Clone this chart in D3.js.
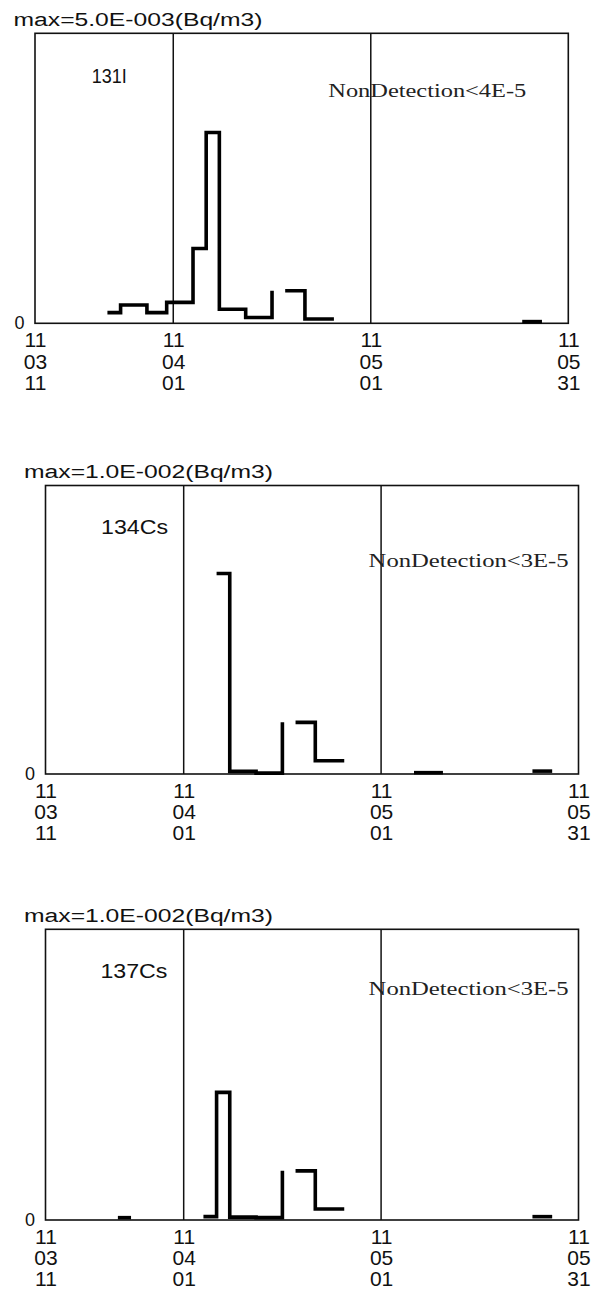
<!DOCTYPE html>
<html>
<head>
<meta charset="utf-8">
<script src="https://cdn.jsdelivr.net/npm/d3@7"></script>
<style>
  html, body { margin: 0; padding: 0; background: #fff; }
  svg { display: block; }
</style>
</head>
<body>
<svg id="chart" width="597" height="1289"></svg>
<script>
// sampling periods are given as day offsets from 2011-03-11
const startDate = new Date(2011, 2, 11);
const tickDates = ["2011-03-11", "2011-04-01", "2011-05-01", "2011-05-31"];
const monthLines = ["2011-04-01", "2011-05-01"];

const i131Start = [11, 13, 17, 20, 24, 26, 28, 32, 38, 41, 74];
const i131End = [13, 17, 20, 24, 26, 28, 32, 36, 41, 45.4, 77];
const i131Value = [1.84e-4, 3.16e-4, 1.84e-4, 3.6e-4, 1.29e-3, 3.29e-3, 2.41e-4, 1.0e-4, 5.6e-4, 7.4e-5, 2.9e-5];

const cs134Start = [26, 28, 32, 38, 41, 56, 74];
const cs134End = [28, 32, 36, 41, 45.4, 60.4, 77];
const cs134Value = [6.95e-3, 9e-5, 3e-5, 1.79e-3, 4.6e-4, 4.6e-5, 1.0e-4];

const cs137Start = [11, 24, 26, 28, 32, 38, 41, 74];
const cs137End = [13, 26, 28, 32, 36, 41, 45.4, 77];
const cs137Value = [8e-5, 1.15e-4, 4.39e-3, 1.0e-4, 8e-5, 1.69e-3, 3.8e-4, 1.15e-4];

const panels = [
  { title: "max=5.0E-003(Bq/m3)", max: 5.0e-3, label: "131I", nd: "NonDetection<4E-5",
    start: i131Start, end: i131End, value: i131Value,
    left: 35, right: 568.3, top: 33.3, bottom: 323.3,
    labelPos: [91.7, 83.3, 35], ndPos: [328.3, 97, 198] },
  { title: "max=1.0E-002(Bq/m3)", max: 1.0e-2, label: "134Cs", nd: "NonDetection<3E-5",
    start: cs134Start, end: cs134End, value: cs134Value,
    left: 45.5, right: 578.5, top: 485.5, bottom: 774,
    labelPos: [101, 534, 67], ndPos: [368.6, 567, 200] },
  { title: "max=1.0E-002(Bq/m3)", max: 1.0e-2, label: "137Cs", nd: "NonDetection<3E-5",
    start: cs137Start, end: cs137End, value: cs137Value,
    left: 45.5, right: 578.5, top: 929.3, bottom: 1220,
    labelPos: [100.4, 978.3, 67], ndPos: [368.6, 995, 200] }
];

const svg = d3.select("#chart");
const parse = d3.timeParse("%Y-%m-%d");
const dayToDate = (d) => new Date(startDate.getTime() + d * 864e5);
const sans = "'Liberation Sans', Arial, sans-serif";
const serif = "'Liberation Serif', 'Times New Roman', serif";

panels.forEach((p) => {
  const g = svg.append("g");

  const x = d3.scaleTime()
    .domain([parse(tickDates[0]), parse(tickDates[tickDates.length - 1])])
    .range([p.left, p.right]);
  const y = d3.scaleLinear().domain([0, p.max]).range([p.bottom, p.top]);

  // title above the frame
  g.append("text")
    .attr("x", p.left - 21.5)
    .attr("y", p.top - 7.3)
    .attr("font-family", sans)
    .attr("font-size", 18)
    .attr("textLength", 249)
    .attr("lengthAdjust", "spacingAndGlyphs")
    .attr("fill", "#111")
    .text(p.title);

  // month divider lines
  g.selectAll("line.month")
    .data(monthLines.map(parse))
    .enter()
    .append("line")
    .attr("x1", (d) => x(d))
    .attr("x2", (d) => x(d))
    .attr("y1", p.top)
    .attr("y2", p.bottom)
    .attr("stroke", "#111")
    .attr("stroke-width", 1.5);

  // frame
  g.append("rect")
    .attr("x", p.left)
    .attr("y", p.top)
    .attr("width", p.right - p.left)
    .attr("height", p.bottom - p.top)
    .attr("fill", "none")
    .attr("stroke", "#111")
    .attr("stroke-width", 1.6);

  // step runs: consecutive periods are joined; a short gap gets only the rise
  const runs = [];
  let run = null;
  p.start.forEach((s, i) => {
    if (!run) {
      run = [[s, p.value[i]]];
      runs.push(run);
    }
    run.push([p.end[i], p.value[i]]);
    const next = p.start[i + 1];
    if (next === undefined) return;
    if (next === p.end[i]) {
      run.push([p.end[i], p.value[i + 1]]);
    } else {
      if (next - p.end[i] <= 2) run.push([p.end[i], p.value[i + 1]]);
      run = null;
    }
  });

  const line = d3.line()
    .x((d) => x(dayToDate(d[0])))
    .y((d) => y(d[1]));

  g.selectAll("path.step")
    .data(runs)
    .enter()
    .append("path")
    .attr("d", line)
    .attr("fill", "none")
    .attr("stroke", "#000")
    .attr("stroke-width", 3.6)
    .attr("stroke-linejoin", "miter");

  // zero label
  g.append("text")
    .attr("x", p.left - 15.5)
    .attr("y", p.bottom + 5.5)
    .attr("text-anchor", "middle")
    .attr("font-family", sans)
    .attr("font-size", 18)
    .attr("fill", "#111")
    .text("0");

  // date ticks: year / month / day stacked
  const axis = d3.axisBottom(x)
    .tickValues(tickDates.map(parse))
    .tickSize(0)
    .tickFormat("");
  const ax = g.append("g")
    .attr("transform", `translate(0,${p.bottom})`)
    .call(axis);
  ax.select(".domain").remove();
  const fmts = [d3.timeFormat("%y"), d3.timeFormat("%m"), d3.timeFormat("%d")];
  const rows = [24, 45.3, 66.3];
  ax.selectAll(".tick").each(function (d) {
    const t = d3.select(this);
    t.select("text").remove();
    fmts.forEach((f, k) => {
      t.append("text")
        .attr("y", rows[k])
        .attr("text-anchor", "middle")
        .attr("font-family", sans)
        .attr("font-size", 21)
        .attr("fill", "#111")
        .text(f(d));
    });
  });

  // nuclide label
  g.append("text")
    .attr("x", p.labelPos[0])
    .attr("y", p.labelPos[1])
    .attr("font-family", sans)
    .attr("font-size", 20)
    .attr("textLength", p.labelPos[2])
    .attr("lengthAdjust", "spacingAndGlyphs")
    .attr("fill", "#111")
    .text(p.label);

  // detection limit note
  g.append("text")
    .attr("x", p.ndPos[0])
    .attr("y", p.ndPos[1])
    .attr("font-family", serif)
    .attr("font-size", 19)
    .attr("textLength", p.ndPos[2])
    .attr("lengthAdjust", "spacingAndGlyphs")
    .attr("fill", "#222")
    .text(p.nd);
});
</script>
</body>
</html>
